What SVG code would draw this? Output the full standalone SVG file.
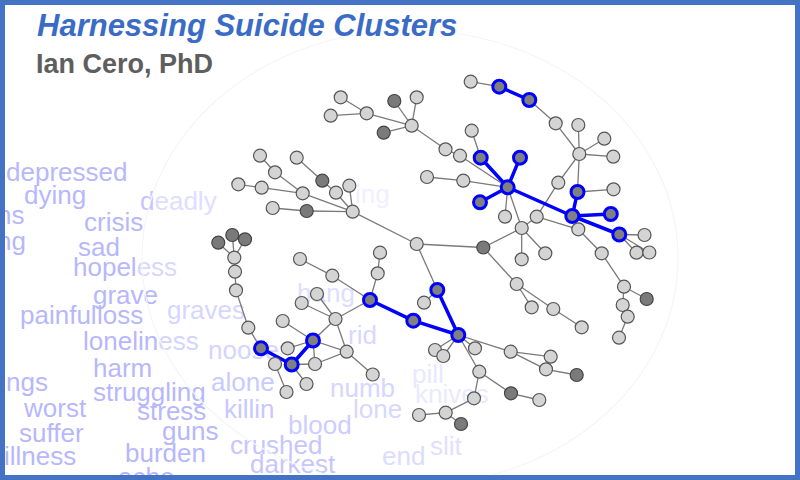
<svg xmlns="http://www.w3.org/2000/svg" width="800" height="480" viewBox="0 0 800 480">
<defs>
<style>
.w{font-family:"Liberation Sans",Arial,sans-serif;font-size:26px;fill:#b7b7fd}
.e{stroke:#7a7a7a;stroke-width:1.3;fill:none}
.be{stroke:#0000ff;stroke-width:3.5;fill:none;stroke-linecap:round}
.L{fill:#d4d4d4;stroke:#555;stroke-width:1.2}
.D{fill:#7a7a7a;stroke:#444;stroke-width:1.2}
.B{fill:#808080;stroke:#0000ff;stroke-width:3}
</style>
</defs>
<rect x="0" y="0" width="800" height="480" fill="#fff"/>
<g id="words">
<text class="w" x="6" y="181">depressed</text>
<text class="w" x="24" y="204">dying</text>
<text class="w" x="-3" y="224">ns</text>
<text class="w" x="140" y="210"><tspan fill="#c4c4ff">d</tspan><tspan fill="#dedeff">eadly</tspan></text>
<text class="w" x="84" y="231">crisis</text>
<text class="w" x="-3" y="250">ng</text>
<text class="w" x="78" y="256">sad</text>
<text class="w" x="73" y="276">hopel<tspan fill="#d8d8ff">ess</tspan></text>
<text class="w" x="93" y="304">grave</text>
<text class="w" x="20" y="324">painful</text>
<text class="w" x="97" y="324">loss</text>
<text class="w" x="167" y="319" style="fill:#d6d6ff">graves</text>
<text class="w" x="83" y="350">lonelin<tspan fill="#d4d4ff">ess</tspan></text>
<text class="w" x="208" y="359" style="fill:#d4d4ff">noose</text>
<text class="w" x="93" y="377">harm</text>
<text class="w" x="6" y="391">ngs</text>
<text class="w" x="211" y="391" style="fill:#cacaff">alone</text>
<text class="w" x="93" y="401">struggling</text>
<text class="w" x="24" y="417">worst</text>
<text class="w" x="137" y="420">stress</text>
<text class="w" x="224" y="418" style="fill:#c8c8ff">killin</text>
<text class="w" x="19" y="442">suffer</text>
<text class="w" x="162" y="440">guns</text>
<text class="w" x="4" y="465">illness</text>
<text class="w" x="125" y="462">burden</text>
<text class="w" x="118" y="486">ache</text>
<text class="w" x="230" y="454" style="fill:#c6c6ff">crushed</text>
<text class="w" x="250" y="473" style="fill:#c6c6ff">darkest</text>
<text class="w" x="288" y="434" style="fill:#cdcdff">blood</text>
<text class="w" x="330" y="397" style="fill:#d6d6ff">numb</text>
<text class="w" x="353" y="418" style="fill:#d8d8ff">lone</text>
<text class="w" x="348" y="344" style="fill:#d8d8ff">rid</text>
<text class="w" x="297" y="302" style="fill:#dedeff">hang</text>
<text class="w" x="382" y="465" style="fill:#dcdcff">end</text>
<text class="w" x="430" y="455" style="fill:#e0e0ff">slit</text>
<text class="w" x="412" y="383" style="fill:#e8e8ff">pill</text>
<text class="w" x="415" y="403" style="fill:#eaeaff">knives</text>
<text class="w" x="355" y="203" style="fill:#f0f0ff">ing</text>
</g>
<ellipse cx="410" cy="258" rx="268" ry="228" fill="none" stroke="#f5f5f5" stroke-width="1.2"/>
<g id="title">
<text x="37" y="36" font-family="Liberation Sans,Arial,sans-serif" font-size="31" font-weight="bold" font-style="italic" fill="#3a6cc6">Harnessing Suicide Clusters</text>
<text x="36" y="73" font-family="Liberation Sans,Arial,sans-serif" font-size="27" font-weight="bold" fill="#5e5e5e">Ian Cero, PhD</text>
</g>
<g id="connectors">
<g class="e">
<line x1="340.7" y1="97.3" x2="366.7" y2="113.3"/>
<line x1="330.7" y1="115.7" x2="366.7" y2="113.3"/>
<line x1="366.7" y1="113.3" x2="411.7" y2="125.7"/>
<line x1="394.3" y1="101" x2="411.7" y2="125.7"/>
<line x1="416.7" y1="97.3" x2="411.7" y2="125.7"/>
<line x1="383.7" y1="132.7" x2="411.7" y2="125.7"/>
<line x1="411.7" y1="125.7" x2="445.5" y2="149.3"/>
<line x1="445.5" y1="149.3" x2="460" y2="155.7"/>
<line x1="460" y1="155.7" x2="507.7" y2="187.3"/>
<line x1="470.7" y1="81.7" x2="499.3" y2="86.7"/>
<line x1="529.3" y1="100" x2="555.7" y2="123.3"/>
<line x1="555.7" y1="123.3" x2="579.3" y2="154"/>
<line x1="578.3" y1="125" x2="579.3" y2="154"/>
<line x1="579.3" y1="154" x2="604.3" y2="138.7"/>
<line x1="579.3" y1="154" x2="613.3" y2="156.7"/>
<line x1="579.3" y1="154" x2="577.5" y2="192"/>
<line x1="579.3" y1="154" x2="558.3" y2="182.7"/>
<line x1="558.3" y1="182.7" x2="536.7" y2="216.7"/>
<line x1="471.7" y1="130.7" x2="480.7" y2="157.7"/>
<line x1="427" y1="177" x2="463.3" y2="180.7"/>
<line x1="463.3" y1="180.7" x2="507.7" y2="187.3"/>
<line x1="507.7" y1="187.3" x2="505" y2="216.7"/>
<line x1="507.7" y1="187.3" x2="521.7" y2="228"/>
<line x1="521.7" y1="228" x2="536.7" y2="216.7"/>
<line x1="521.7" y1="228" x2="521.7" y2="259.3"/>
<line x1="521.7" y1="228" x2="545.3" y2="253.3"/>
<line x1="521.7" y1="228" x2="483.3" y2="247.5"/>
<line x1="536.7" y1="216.7" x2="578.3" y2="229.3"/>
<line x1="578.3" y1="229.3" x2="601.7" y2="253.3"/>
<line x1="619.3" y1="234.5" x2="644.5" y2="235"/>
<line x1="619.3" y1="234.5" x2="636.5" y2="252.7"/>
<line x1="619.3" y1="234.5" x2="649.3" y2="252.5"/>
<line x1="577.5" y1="192" x2="613.5" y2="189.3"/>
<line x1="601.7" y1="253.3" x2="624" y2="286.7"/>
<line x1="416.7" y1="244" x2="483.3" y2="247.5"/>
<line x1="416.7" y1="244" x2="352.7" y2="211.7"/>
<line x1="416.7" y1="244" x2="437.3" y2="290"/>
<line x1="483.3" y1="247.5" x2="516.7" y2="284"/>
<line x1="516.7" y1="284" x2="531.7" y2="307.3"/>
<line x1="516.7" y1="284" x2="553.3" y2="309"/>
<line x1="553.3" y1="309" x2="581.7" y2="327.3"/>
<line x1="624" y1="286.7" x2="646.7" y2="299"/>
<line x1="624" y1="286.7" x2="622.7" y2="305"/>
<line x1="622.7" y1="305" x2="627.7" y2="316.7"/>
<line x1="627.7" y1="316.7" x2="619" y2="337.7"/>
<line x1="424" y1="302.7" x2="437.3" y2="290"/>
<line x1="458.3" y1="335" x2="435" y2="350"/>
<line x1="458.3" y1="335" x2="443.3" y2="356"/>
<line x1="458.3" y1="335" x2="475" y2="348.3"/>
<line x1="458.3" y1="335" x2="479.3" y2="371.7"/>
<line x1="458.3" y1="335" x2="510.7" y2="351.7"/>
<line x1="510.7" y1="351.7" x2="550.7" y2="356.7"/>
<line x1="510.7" y1="351.7" x2="546" y2="369.3"/>
<line x1="546" y1="369.3" x2="576.7" y2="375"/>
<line x1="479.3" y1="371.7" x2="511" y2="393.3"/>
<line x1="511" y1="393.3" x2="539.3" y2="400"/>
<line x1="479.3" y1="371.7" x2="474" y2="398.3"/>
<line x1="474" y1="398.3" x2="445.7" y2="412.7"/>
<line x1="445.7" y1="412.7" x2="419" y2="415"/>
<line x1="445.7" y1="412.7" x2="461" y2="424"/>
<line x1="260" y1="155.7" x2="275" y2="172.3"/>
<line x1="275" y1="172.3" x2="302.7" y2="193.3"/>
<line x1="238.3" y1="184.3" x2="261.7" y2="187.7"/>
<line x1="261.7" y1="187.7" x2="302.7" y2="193.3"/>
<line x1="302.7" y1="193.3" x2="352.7" y2="211.7"/>
<line x1="296.7" y1="157.7" x2="322.3" y2="180.7"/>
<line x1="322.3" y1="180.7" x2="336" y2="192.7"/>
<line x1="336" y1="192.7" x2="352.7" y2="211.7"/>
<line x1="349.3" y1="185.7" x2="352.7" y2="211.7"/>
<line x1="272.7" y1="208" x2="306.7" y2="211"/>
<line x1="306.7" y1="211" x2="352.7" y2="211.7"/>
<line x1="218.3" y1="242.7" x2="234.3" y2="257.7"/>
<line x1="232.3" y1="235" x2="234.3" y2="257.7"/>
<line x1="245" y1="239.3" x2="234.3" y2="257.7"/>
<line x1="234.3" y1="257.7" x2="235" y2="271.7"/>
<line x1="235" y1="271.7" x2="236" y2="290.3"/>
<line x1="236" y1="290.3" x2="248.3" y2="327.7"/>
<line x1="248.3" y1="327.7" x2="261" y2="348.3"/>
<line x1="300" y1="259" x2="332.3" y2="275.7"/>
<line x1="332.3" y1="275.7" x2="370" y2="300"/>
<line x1="380" y1="252.7" x2="377.7" y2="273.3"/>
<line x1="377.7" y1="273.3" x2="370" y2="300"/>
<line x1="370" y1="300" x2="335.5" y2="319"/>
<line x1="282.7" y1="321" x2="313" y2="340.5"/>
<line x1="301.7" y1="303" x2="335.5" y2="319"/>
<line x1="317" y1="294" x2="335.5" y2="319"/>
<line x1="335.5" y1="319" x2="313" y2="340.5"/>
<line x1="335.5" y1="319" x2="346.7" y2="351.7"/>
<line x1="313" y1="340.5" x2="346.7" y2="351.7"/>
<line x1="315" y1="364" x2="346.7" y2="351.7"/>
<line x1="346.7" y1="351.7" x2="372.7" y2="374.5"/>
<line x1="313" y1="340.5" x2="315" y2="364"/>
<line x1="291.7" y1="364.5" x2="315" y2="364"/>
<line x1="291.7" y1="364.5" x2="306.5" y2="384"/>
<line x1="275" y1="364" x2="286.5" y2="392"/>
<line x1="287.7" y1="348.3" x2="313" y2="340.5"/>
</g>
<g class="be">
<line x1="499.3" y1="86.7" x2="529.3" y2="100"/>
<line x1="480.7" y1="157.7" x2="507.7" y2="187.3"/>
<line x1="520" y1="157.7" x2="507.7" y2="187.3"/>
<line x1="480" y1="202.3" x2="507.7" y2="187.3"/>
<line x1="507.7" y1="187.3" x2="572.3" y2="216"/>
<line x1="572.3" y1="216" x2="577.5" y2="192"/>
<line x1="572.3" y1="216" x2="610.8" y2="214"/>
<line x1="572.3" y1="216" x2="619.3" y2="234.5"/>
<line x1="437.3" y1="290" x2="458.3" y2="335"/>
<line x1="413.3" y1="320.7" x2="458.3" y2="335"/>
<line x1="370" y1="300" x2="413.3" y2="320.7"/>
<line x1="261" y1="348.3" x2="291.7" y2="364.5"/>
<line x1="291.7" y1="364.5" x2="313" y2="340.5"/>
</g>
</g>
<g id="nodes">
<g id="n1"><circle class="L" cx="340.7" cy="97.3" r="6.5"/></g>
<g id="n2"><circle class="L" cx="330.7" cy="115.7" r="6.5"/></g>
<g id="n3"><circle class="L" cx="366.7" cy="113.3" r="6.5"/></g>
<g id="n4"><circle class="D" cx="394.3" cy="101" r="6.5"/></g>
<g id="n5"><circle class="L" cx="416.7" cy="97.3" r="6.5"/></g>
<g id="n6"><circle class="L" cx="411.7" cy="125.7" r="6.5"/></g>
<g id="n7"><circle class="D" cx="383.7" cy="132.7" r="6.5"/></g>
<g id="n8"><circle class="L" cx="445.5" cy="149.3" r="6.5"/></g>
<g id="n9"><circle class="L" cx="460" cy="155.7" r="6.5"/></g>
<g id="b1"><circle class="L" cx="470.7" cy="81.7" r="6.5"/></g>
<g id="b2"><circle class="B" cx="499.3" cy="86.7" r="6.5"/></g>
<g id="b3"><circle class="B" cx="529.3" cy="100" r="6.5"/></g>
<g id="b4"><circle class="L" cx="555.7" cy="123.3" r="6.5"/></g>
<g id="b5"><circle class="L" cx="578.3" cy="125" r="6.5"/></g>
<g id="b6"><circle class="L" cx="471.7" cy="130.7" r="6.5"/></g>
<g id="b9"><circle class="B" cx="480.7" cy="157.7" r="6.5"/></g>
<g id="b10"><circle class="B" cx="520" cy="157.7" r="6.5"/></g>
<g id="b11"><circle class="L" cx="579.3" cy="154" r="6.5"/></g>
<g id="b12"><circle class="L" cx="604.3" cy="138.7" r="6.5"/></g>
<g id="b13"><circle class="L" cx="613.3" cy="156.7" r="6.5"/></g>
<g id="b14"><circle class="L" cx="427" cy="177" r="6.5"/></g>
<g id="b15"><circle class="L" cx="463.3" cy="180.7" r="6.5"/></g>
<g id="b16"><circle class="B" cx="507.7" cy="187.3" r="6.5"/></g>
<g id="b17"><circle class="L" cx="558.3" cy="182.7" r="6.5"/></g>
<g id="b18"><circle class="B" cx="577.5" cy="192" r="6.5"/></g>
<g id="b19"><circle class="L" cx="613.5" cy="189.3" r="6.5"/></g>
<g id="b20"><circle class="B" cx="480" cy="202.3" r="6.5"/></g>
<g id="b21"><circle class="L" cx="505" cy="216.7" r="6.5"/></g>
<g id="b22"><circle class="L" cx="536.7" cy="216.7" r="6.5"/></g>
<g id="b23"><circle class="B" cx="572.3" cy="216" r="6.5"/></g>
<g id="b24"><circle class="B" cx="610.8" cy="214" r="6.5"/></g>
<g id="b25"><circle class="L" cx="521.7" cy="228" r="6.5"/></g>
<g id="b26"><circle class="L" cx="578.3" cy="229.3" r="6.5"/></g>
<g id="b27"><circle class="B" cx="619.3" cy="234.5" r="6.5"/></g>
<g id="b28"><circle class="L" cx="644.5" cy="235" r="6.5"/></g>
<g id="b29"><circle class="L" cx="636.5" cy="252.7" r="6.5"/></g>
<g id="b30"><circle class="L" cx="649.3" cy="252.5" r="6.5"/></g>
<g id="b31"><circle class="D" cx="483.3" cy="247.5" r="6.5"/></g>
<g id="b32"><circle class="L" cx="521.7" cy="259.3" r="6.5"/></g>
<g id="b33"><circle class="L" cx="545.3" cy="253.3" r="6.5"/></g>
<g id="b34"><circle class="L" cx="601.7" cy="253.3" r="6.5"/></g>
<g id="c1"><circle class="L" cx="416.7" cy="244" r="6.5"/></g>
<g id="c12"><circle class="L" cx="516.7" cy="284" r="6.5"/></g>
<g id="c13"><circle class="L" cx="531.7" cy="307.3" r="6.5"/></g>
<g id="c14"><circle class="L" cx="553.3" cy="309" r="6.5"/></g>
<g id="c15"><circle class="L" cx="581.7" cy="327.3" r="6.5"/></g>
<g id="c16"><circle class="L" cx="624" cy="286.7" r="6.5"/></g>
<g id="c17"><circle class="D" cx="646.7" cy="299" r="6.5"/></g>
<g id="c18"><circle class="L" cx="622.7" cy="305" r="6.5"/></g>
<g id="c19"><circle class="L" cx="627.7" cy="316.7" r="6.5"/></g>
<g id="c20"><circle class="L" cx="619" cy="337.7" r="6.5"/></g>
<g id="c21"><circle class="B" cx="437.3" cy="290" r="6.5"/></g>
<g id="c22"><circle class="L" cx="424" cy="302.7" r="6.5"/></g>
<g id="c23"><circle class="B" cx="413.3" cy="320.7" r="6.5"/></g>
<g id="c24"><circle class="B" cx="458.3" cy="335" r="6.5"/></g>
<g id="c25"><circle class="L" cx="435" cy="350" r="6.5"/></g>
<g id="c26"><circle class="L" cx="443.3" cy="356" r="6.5"/></g>
<g id="c27"><circle class="L" cx="475" cy="348.3" r="6.5"/></g>
<g id="c28"><circle class="L" cx="479.3" cy="371.7" r="6.5"/></g>
<g id="c29"><circle class="L" cx="510.7" cy="351.7" r="6.5"/></g>
<g id="c30"><circle class="L" cx="550.7" cy="356.7" r="6.5"/></g>
<g id="c31"><circle class="L" cx="546" cy="369.3" r="6.5"/></g>
<g id="c32"><circle class="D" cx="576.7" cy="375" r="6.5"/></g>
<g id="c33"><circle class="D" cx="511" cy="393.3" r="6.5"/></g>
<g id="c34"><circle class="L" cx="539.3" cy="400" r="6.5"/></g>
<g id="c35"><circle class="L" cx="474" cy="398.3" r="6.5"/></g>
<g id="c36"><circle class="L" cx="445.7" cy="412.7" r="6.5"/></g>
<g id="c37"><circle class="L" cx="419" cy="415" r="6.5"/></g>
<g id="c38"><circle class="D" cx="461" cy="424" r="6.5"/></g>
<g id="f1"><circle class="L" cx="260" cy="155.7" r="6.5"/></g>
<g id="f2"><circle class="L" cx="275" cy="172.3" r="6.5"/></g>
<g id="f3"><circle class="L" cx="296.7" cy="157.7" r="6.5"/></g>
<g id="f4"><circle class="D" cx="322.3" cy="180.7" r="6.5"/></g>
<g id="f5"><circle class="L" cx="238.3" cy="184.3" r="6.5"/></g>
<g id="f6"><circle class="L" cx="261.7" cy="187.7" r="6.5"/></g>
<g id="f7"><circle class="L" cx="302.7" cy="193.3" r="6.5"/></g>
<g id="f8"><circle class="L" cx="336" cy="192.7" r="6.5"/></g>
<g id="f9"><circle class="L" cx="349.3" cy="185.7" r="6.5"/></g>
<g id="d1"><circle class="L" cx="272.7" cy="208" r="6.5"/></g>
<g id="d2"><circle class="D" cx="306.7" cy="211" r="6.5"/></g>
<g id="d3"><circle class="L" cx="352.7" cy="211.7" r="6.5"/></g>
<g id="d5"><circle class="D" cx="218.3" cy="242.7" r="6.5"/></g>
<g id="d6"><circle class="D" cx="232.3" cy="235" r="6.5"/></g>
<g id="d7"><circle class="D" cx="245" cy="239.3" r="6.5"/></g>
<g id="d8"><circle class="L" cx="234.3" cy="257.7" r="6.5"/></g>
<g id="d9"><circle class="L" cx="235" cy="271.7" r="6.5"/></g>
<g id="d10"><circle class="L" cx="236" cy="290.3" r="6.5"/></g>
<g id="d11"><circle class="L" cx="248.3" cy="327.7" r="6.5"/></g>
<g id="d12"><circle class="B" cx="261" cy="348.3" r="6.5"/></g>
<g id="d13"><circle class="L" cx="300" cy="259" r="6.5"/></g>
<g id="d14"><circle class="L" cx="332.3" cy="275.7" r="6.5"/></g>
<g id="d15"><circle class="B" cx="370" cy="300" r="6.5"/></g>
<g id="d16"><circle class="L" cx="380" cy="252.7" r="6.5"/></g>
<g id="d17"><circle class="L" cx="377.7" cy="273.3" r="6.5"/></g>
<g id="e6"><circle class="L" cx="287.7" cy="348.3" r="6.5"/></g>
<g id="e7"><circle class="L" cx="275" cy="364" r="6.5"/></g>
<g id="e8"><circle class="L" cx="286.5" cy="392" r="6.5"/></g>
<g id="e9"><circle class="L" cx="306.5" cy="384" r="6.5"/></g>
<g id="e10"><circle class="L" cx="315" cy="364" r="6.5"/></g>
<g id="e11"><circle class="L" cx="282.7" cy="321" r="6.5"/></g>
<g id="e12"><circle class="L" cx="301.7" cy="303" r="6.5"/></g>
<g id="e13"><circle class="L" cx="317" cy="294" r="6.5"/></g>
<g id="e14"><circle class="L" cx="335.5" cy="319" r="6.5"/></g>
<g id="e15"><circle class="L" cx="346.7" cy="351.7" r="6.5"/></g>
<g id="e16"><circle class="L" cx="372.7" cy="374.5" r="6.5"/></g>
<g id="e4"><circle class="B" cx="291.7" cy="364.5" r="6.5"/></g>
<g id="e5"><circle class="B" cx="313" cy="340.5" r="6.5"/></g>
</g>
<rect x="2.5" y="2.5" width="795" height="475" fill="none" stroke="#4472c4" stroke-width="5"/>
</svg>
